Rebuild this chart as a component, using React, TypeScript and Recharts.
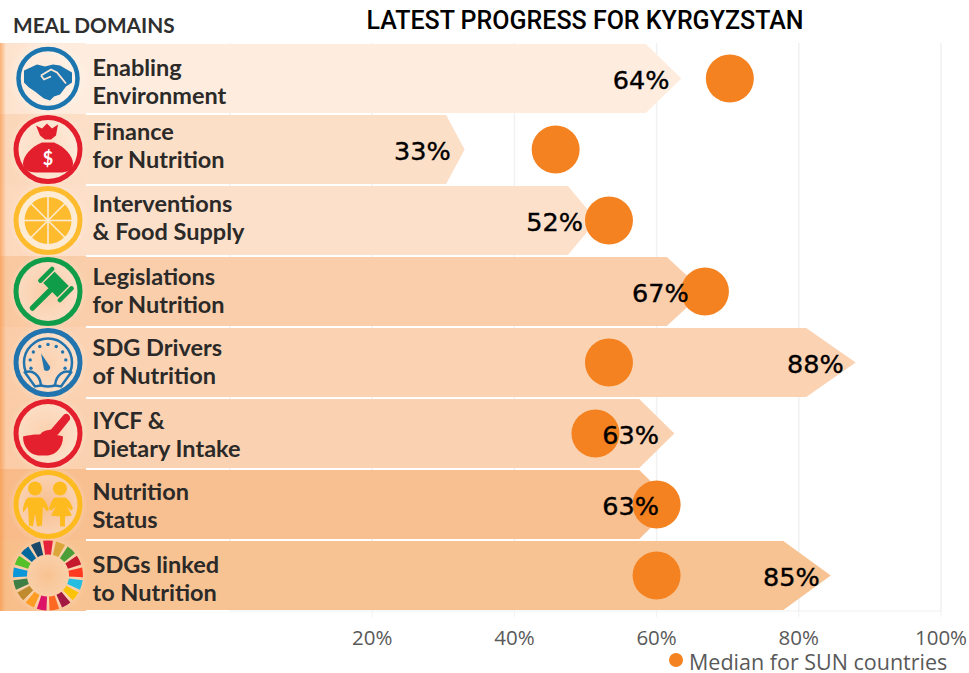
import React from 'react';
import { ComposedChart, Bar, Line, XAxis, YAxis, CartesianGrid, Legend, LabelList } from 'recharts';

const categories = ['Enabling|Environment', 'Finance|for Nutrition', 'Interventions|& Food Supply', 'Legislations|for Nutrition', 'SDG Drivers|of Nutrition', 'IYCF &|Dietary Intake', 'Nutrition|Status', 'SDGs linked|to Nutrition'];
const progress = [63.5, 33, 51.6, 66.7, 88, 62.5, 62.5, 84.5];
const median = [70.3, 45.8, 53.3, 66.8, 53.3, 51.4, 60, 60];
const xTicks = [20, 40, 60, 80, 100];
const rows = categories.map((name, i) => ({ name, progress: progress[i], median: median[i], idx: i }));

const ROW_FILLS = ['#FEEDDF', '#FCDFC7', '#FDE0CA', '#FACEAA', '#FBD3B3', '#FBD2B1', '#F8BF90', '#F8C392'];
const TEXT_OFFSETS = [-3, -10, -9, -7, -7, -5, -5, -3];
const LABEL_NUDGE = [12, 14, 14, 15.5, 12, 15.5, 15.5, 11];
const SDG = ['#E5243B', '#DDA63A', '#4C9F38', '#C5192D', '#FF3A21', '#26BDE2', '#FCC30B', '#A21942', '#FD6925', '#DD1367', '#FD9D24', '#BF8B2E', '#3F7E44', '#0A97D9', '#56C02B', '#00689D', '#19486A'];
const LABEL_FONT = 'Lato, "Open Sans", sans-serif';
const PLOT_LEFT = 230;

function Ring({ color, r = 32, w = 5 }: any) {
  return <circle r={r} fill="none" stroke={color} strokeWidth={w} />;
}

function polar(r: number, a: number) {
  return [r * Math.sin(a), -r * Math.cos(a)];
}

function Icon({ i }: any) {
  if (i === 0) {
    const c = '#1B75AE';
    return <g>
      <Ring color={c} r={29.5} w={4.5} />
      <path fill={c} d="M-24,-8 L-11,-14 L-3,-12 L5,-14 L12,-13 L24,-6 L24,4 L18,8 L12,16 L6,18 L2,22 L-4,20 L-8,17 L-13,13 L-19,9 L-24,4 Z" />
      <path fill="none" stroke="#FDE8D8" strokeWidth={1.8} d="M-7,-3 L3,-9 L9,-6 L18,5 M-7,-3 L-4,1 L3,-2" />
    </g>;
  }
  if (i === 1) {
    const c = '#E31E2D';
    return <g>
      <Ring color={c} />
      <path fill={c} d="M-12,-24 L-6,-21 L-1,-26 L4,-21 L10,-25 L8,-14 L3,-10 L-3,-10 L-8,-14 Z" />
      <path fill={c} d="M-6,-7 L6,-7 C16,-3 25,6 25,14 C25,21 18,23 12,23 L-12,23 C-19,23 -25,20 -25,14 C-25,6 -16,-3 -6,-7 Z" />
      <text x={0} y={15} textAnchor="middle" fill="#fff" fontFamily="Lato, sans-serif" fontWeight={700} fontSize={18}>$</text>
    </g>;
  }
  if (i === 2) {
    const c = '#FDBB2D';
    const spokes = Array.from({ length: 8 }, (_, k) => polar(24, (k * Math.PI) / 4));
    return <g>
      <circle r={32} fill="#FDEBD3" />
      <Ring color={c} />
      <circle r={23.5} fill={c} />
      {spokes.map((p, k) => <line key={k} x1={0} y1={0} x2={p[0]} y2={p[1]} stroke="#FDEBD3" strokeWidth={1.6} />)}
    </g>;
  }
  if (i === 3) {
    const c = '#0F9D4A';
    return <g>
      <Ring color={c} />
      <g transform="translate(8 -7) rotate(-45)">
        <rect x={-10.5} y={-16} width={21} height={4.5} rx={2} fill={c} />
        <rect x={-10.5} y={11.5} width={21} height={4.5} rx={2} fill={c} />
        <rect x={-8} y={-10} width={16} height={20} fill={c} />
        <rect x={-36} y={-2.7} width={30} height={5.4} rx={2.5} fill={c} />
      </g>
    </g>;
  }
  if (i === 4) {
    const c = '#2274AE';
    const dots = Array.from({ length: 9 }, (_, k) => polar(18, -1.9 + (k * 3.8) / 8));
    return <g>
      <Ring color={c} />
      <circle r={24} fill="none" stroke={c} strokeWidth={2.5} />
      {dots.map((p, k) => <circle key={k} cx={p[0]} cy={p[1]} r={1.7} fill={c} />)}
      <path fill={c} d="M-7,-9 L2,4 C3,8 -2,10 -4,7 Z" />
      <path fill="#FCDDC4" stroke={c} strokeWidth={2.5} d="M-23,10 C-16,7 -8,12 -7,23 L-13,24 Z" />
      <path fill="#FCDDC4" stroke={c} strokeWidth={2.5} d="M23,10 C16,7 8,12 7,23 L13,24 Z" />
    </g>;
  }
  if (i === 5) {
    const c = '#E4202E';
    return <g>
      <Ring color={c} />
      <path fill={c} d="M-25,3 C-15,0 8,0 15,3 C15,14 8,21 0,22 L-10,22 C-18,21 -25,14 -25,3 Z" />
      <path fill={c} d="M-8,3 C-8,-2 -2,-3 3,-4 L16,-19 C19,-21 23,-18 22,-14 L10,1 C6,5 -4,6 -8,3 Z" />
    </g>;
  }
  if (i === 6) {
    const c = '#FDBB20';
    return <g>
      <Ring color={c} />
      <circle cx={-13} cy={-16} r={7} fill={c} />
      <circle cx={12} cy={-16} r={7} fill={c} />
      <path fill={c} d="M-19,-7 L-7,-7 C-3,-6 0,2 1,5 L-1,7 L-5,2 L-6,21 L-11,22 L-13,9 L-15,22 L-19,21 L-20,2 L-25,8 L-25,4 C-24,0 -23,-6 -19,-7 Z" />
      <path fill={c} d="M7,-7 L17,-7 C21,-6 24,1 25,4 L23,6 L19,2 L24,11 L17,12 L17,22 L12,22 L12,12 L3,11 L8,2 L3,6 L1,4 C2,1 4,-6 7,-7 Z" />
    </g>;
  }
  const seg = (2 * Math.PI) / 17;
  return <g>
    {SDG.map((col, k) => {
      const a0 = k * seg - seg / 2 + 0.045;
      const a1 = k * seg + seg / 2 - 0.045;
      const [x0, y0] = polar(35, a0);
      const [x1, y1] = polar(35, a1);
      const [x2, y2] = polar(21, a1);
      const [x3, y3] = polar(21, a0);
      return <path key={k} fill={col} d={`M${x0},${y0} A35,35 0 0 1 ${x1},${y1} L${x2},${y2} A21,21 0 0 0 ${x3},${y3} Z`} />;
    })}
  </g>;
}

function RowTick({ y, payload, index }: any) {
  const i = index;
  const [l1, l2] = String(payload.value).split('|');
  const base = y + TEXT_OFFSETS[i];
  return <g>
    <g transform={`translate(48 ${y})`}><Icon i={i} /></g>
    <text x={92.5} y={base} fontFamily={LABEL_FONT} fontWeight={700} fontSize={23.5} fill="#2B2A29">{l1}</text>
    <text x={92.5} y={base + 28.5} fontFamily={LABEL_FONT} fontWeight={700} fontSize={23.5} fill="#2B2A29">{l2}</text>
  </g>;
}

function ArrowBar({ x, y, width, height, index }: any) {
  const tip = x + width;
  const shoulder = tip - width * 0.079;
  const mid = y + height / 2;
  const fill = ROW_FILLS[index];
  return <g>
    <path d={`M0,${y} L${shoulder},${y} L${tip},${mid} L${shoulder},${y + height} L0,${y + height} Z`} fill={fill} />
    <rect x={0} y={y - 1} width={86} height={height + 2} fill={fill} />
    <rect x={0} y={y - 1} width={86} height={height + 2} fill="url(#edgeFade)" />
    <circle cx={48} cy={mid} r={40} fill="url(#halo)" />
  </g>;
}

function ValueLabel({ x, y, width, height, value, index }: any) {
  return <text x={x + width - LABEL_NUDGE[index]} y={y + height / 2 + 10} textAnchor="end" fontFamily='"DejaVu Sans", sans-serif' fontSize={25.5} fill="#000" stroke="#000" strokeWidth={0.4}>{Math.round(value)}%</text>;
}

function MedianLegend() {
  return <div style={{ position: 'relative', height: 22, width: 969 }}>
    <span style={{ position: 'absolute', left: 669, top: 2, width: 14, height: 14, borderRadius: 7, background: '#F58220' }} />
    <span style={{ position: 'absolute', left: 689, top: 0, fontFamily: '"Open Sans", sans-serif', fontSize: 21.5, lineHeight: '22px', color: '#595959', whiteSpace: 'nowrap' }}>Median for SUN countries</span>
  </div>;
}

export default function App() {
  return (
    <div style={{ position: 'absolute', left: 0, top: 0, width: 969, height: 673 }}>
      <ComposedChart width={969} height={673} data={rows} layout="vertical" barCategoryGap={1} margin={{ top: 43, right: 28, bottom: 0, left: 0 }}>
        <defs>
          <linearGradient id="edgeFade" x1="0" x2="1" y1="0" y2="0">
            <stop offset="0" stopColor="#F79A50" stopOpacity={0.75} />
            <stop offset="0.07" stopColor="#F79A50" stopOpacity={0.12} />
            <stop offset="1" stopColor="#F79A50" stopOpacity={0} />
          </linearGradient>
          <radialGradient id="halo">
            <stop offset="0" stopColor="#fff" stopOpacity={0.03} />
            <stop offset="0.7" stopColor="#fff" stopOpacity={0.3} />
            <stop offset="1" stopColor="#fff" stopOpacity={0} />
          </radialGradient>
        </defs>
        <CartesianGrid horizontal={false} stroke="#F1F1F1" strokeWidth={1.5} />
        <XAxis type="number" domain={[0, 100]} ticks={xTicks} height={40} tickSize={6} tickMargin={13}
          tickFormatter={(v: number) => `${v}%`} stroke="#F1F1F1" interval={0}
          tick={{ fill: '#595959', fontSize: 20.5, fontFamily: '"Open Sans", sans-serif' }} />
        <YAxis type="category" dataKey="name" width={PLOT_LEFT} axisLine={false} tickLine={false} interval={0} tick={(p: any) => <RowTick {...p} />} />
        <Bar dataKey="progress" isAnimationActive={false} shape={(p: any) => <ArrowBar {...p} />}>
          <LabelList dataKey="progress" content={(p: any) => <ValueLabel {...p} />} />
        </Bar>
        <Line dataKey="median" name="Median for SUN countries" stroke="none" isAnimationActive={false} legendType="circle"
          dot={{ r: 24, fill: '#F58220', stroke: 'none' }} activeDot={false} />
        <Legend verticalAlign="bottom" height={22} content={() => <MedianLegend />} wrapperStyle={{ left: 0, width: 969 }} />
        <text x={585} y={29} textAnchor="middle" fontFamily="Roboto, sans-serif" fontWeight={500} fontSize={25} fill="#000">LATEST PROGRESS FOR KYRGYZSTAN</text>
        <text x={13} y={33} fontFamily={LABEL_FONT} fontWeight={700} fontSize={20.8} fill="#2F2F2F">MEAL DOMAINS</text>
      </ComposedChart>
    </div>
  );
}
